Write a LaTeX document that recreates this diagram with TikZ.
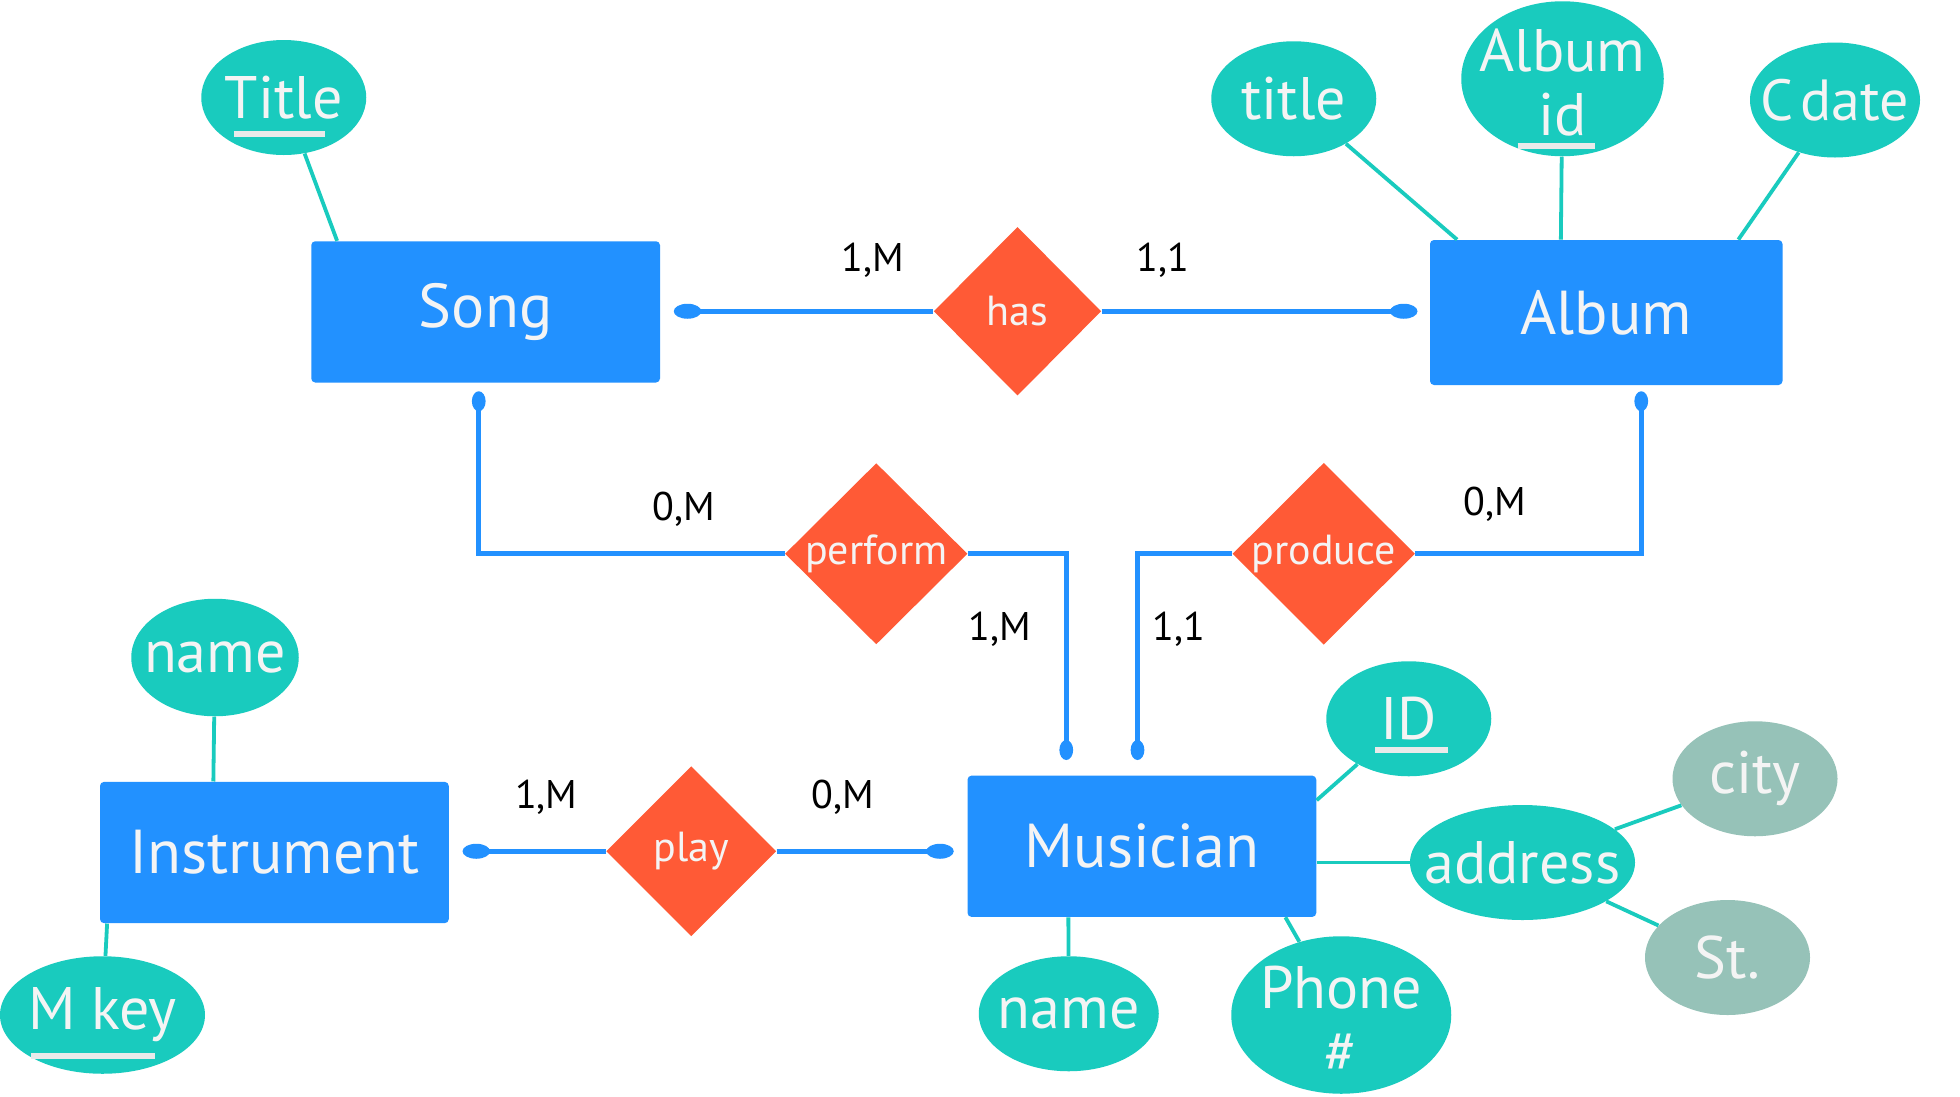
\documentclass[tikz,border=0pt]{standalone}
\usepackage{fontspec}
\setmainfont{PT Sans}
\usetikzlibrary{shapes.geometric}
\definecolor{eblue}{HTML}{2291FF}
\definecolor{eteal}{HTML}{19CBBE}
\definecolor{eorange}{HTML}{FF5A36}
\definecolor{egray}{HTML}{96C2B8}
\definecolor{etext}{HTML}{F4F4F4}
\definecolor{eul}{HTML}{EAEAEA}
\newcommand{\pxu}{0.625pt}
\tikzset{
 entity/.style={rectangle, rounded corners=2pt, fill=eblue, text=etext, minimum width=279*\pxu, minimum height=113*\pxu, inner sep=0pt, font=\fontsize{31}{36}\selectfont},
 atext/.style={text=etext, inner sep=0pt, align=center, font=\fontsize{30}{32}\selectfont},
 attr/.style={ellipse, fill=eteal, inner sep=0pt},
 subattr/.style={attr, fill=egray},
 esize/.style 2 args={minimum width=#1*\pxu, minimum height=#2*\pxu},
 rel/.style={diamond, aspect=1, fill=eorange, text=etext, inner sep=0pt, font=\fontsize{21}{24}\selectfont},
 card/.style={font=\fontsize{20}{24}\selectfont, text=black, inner sep=0pt},
 link/.style={draw=eblue, line width=2.6pt},
 alink/.style={draw=eteal, line width=1.9pt},
 hdot/.style={ellipse, fill=eblue, minimum width=22*\pxu, minimum height=12*\pxu, inner sep=0pt},
 vdot/.style={ellipse, fill=eblue, minimum width=11*\pxu, minimum height=16*\pxu, inner sep=0pt},
 ul/.style={draw=eul, line width=3pt},
}
\begin{document}
\begin{tikzpicture}[x=0.625pt,y=-0.625pt]
\useasboundingbox[fill=white] (0,0) rectangle (1568,877);

% entities
\node[entity] (song) at (388.5,249.5) {Song};
\node[entity, minimum width=282*\pxu, minimum height=116*\pxu] (album) at (1285,250) {Album};
\node[entity] (musician) at (913.5,677) {Musician};
\node[entity] (instrument) at (219.5,682) {Instrument};

% relationships
\node[rel, minimum width=134*\pxu, minimum height=135*\pxu] (has) at (814,249) {has};
\node[rel, minimum width=146*\pxu, minimum height=145*\pxu] (perform) at (701,443) {perform};
\node[rel, minimum width=146*\pxu, minimum height=145*\pxu] (produce) at (1059,443) {produce};
\node[rel, minimum width=136*\pxu, minimum height=136*\pxu] (play) at (553,681) {play};

% attributes
\node[attr, esize={132}{92}, label={[atext]center:Title}] (stitle) at (227,78) {};
\node[attr, esize={132}{92}, label={[atext]center:title}] (atitle) at (1035,79) {};
\node[attr, esize={162}{124}, label={[atext, yshift=-2pt]center:Album\\id}] (aid) at (1250,63) {};
\node[attr, esize={136}{92}, label={[atext, font=\fontsize{29}{32}\selectfont]center:C\hspace{0.12em}date}] (cdate) at (1468,80) {};
\node[attr, esize={134}{94}, label={[atext]center:name}] (iname) at (172,526) {};
\node[attr, esize={164}{94}, label={[atext]center:M key}] (mkey) at (82,812) {};
\node[attr, esize={132}{92}, label={[atext]center:ID}] (mid) at (1127,575) {};
\node[attr, esize={180}{92}, label={[atext]center:address}] (addr) at (1218,690) {};
\node[subattr, esize={132}{92}, label={[atext]center:city}] (city) at (1404,623) {};
\node[subattr, esize={132}{92}, label={[atext]center:St.}] (st) at (1382,766) {};
\node[attr, esize={144}{92}, label={[atext]center:name}] (mname) at (855,811) {};
\node[attr, esize={176}{126}, label={[atext, yshift=-2pt]center:Phone\\\#}] (phone) at (1073,812) {};

% underlines of keys
\draw[ul] (stitle) ++(-40,29) -- ++(73,0);
\draw[ul] (aid) ++(-36,54) -- ++(62,0);
\draw[ul] (mid) ++(-27,25) -- ++(58,0);
\draw[ul] (mkey) ++(-57,33) -- ++(99,0);

% attribute links
\draw[alink] (song.north west) ++(21,0) -- (stitle);
\draw[alink] (album.north west) ++(22,0) -- (atitle);
\draw[alink] (album.north west) ++(105,0) -- (aid);
\draw[alink] (album.north west) ++(247,0) -- (cdate);
\draw[alink] (instrument.north west) ++(91,0) -- (iname);
\draw[alink] (instrument.south west) ++(6,0) -- (mkey);
\draw[alink] (musician.north east) ++(0,20) -- (mid);
\draw[alink] (musician.east) ++(0,13) -- (addr);
\draw[alink] (musician.south east) ++(-25,0) -- (phone);
\draw[alink] (musician.south west) ++(81,0) -- (mname);
\draw[alink] (addr) -- (city);
\draw[alink] (addr) -- (st);

% dots
\node[hdot] (d1) at (550,249) {};
\node[hdot] (d2) at (1123,249) {};
\node[vdot] (d3) at (383,321) {};
\node[vdot] (d4) at (853,600) {};
\node[vdot] (d5) at (910,600) {};
\node[vdot] (d6) at (1313,321) {};
\node[hdot] (d7) at (381,681) {};
\node[hdot] (d8) at (752,681) {};

% relationship links
\draw[link] (d1.center) -- (has.west);
\draw[link] (has.east) -- (d2.center);
\draw[link] (d3.center) |- (perform.west);
\draw[link] (perform.east) -| (d4.center);
\draw[link] (d5.center) |- (produce.west);
\draw[link] (produce.east) -| (d6.center);
\draw[link] (d7.center) -- (play.west);
\draw[link] (play.east) -- (d8.center);

% cardinalities
\node[card] (c1) at (698,208) {1,M};
\node[card] (c2) at (930,208) {1,1};
\node[card] (c3) at (547,407) {0,M};
\node[card] (c4) at (800,503) {1,M};
\node[card] (c5) at (943,503) {1,1};
\node[card] (c6) at (1196,403) {0,M};
\node[card] (c7) at (437,638) {1,M};
\node[card] (c8) at (674,638) {0,M};
\end{tikzpicture}
\end{document}
